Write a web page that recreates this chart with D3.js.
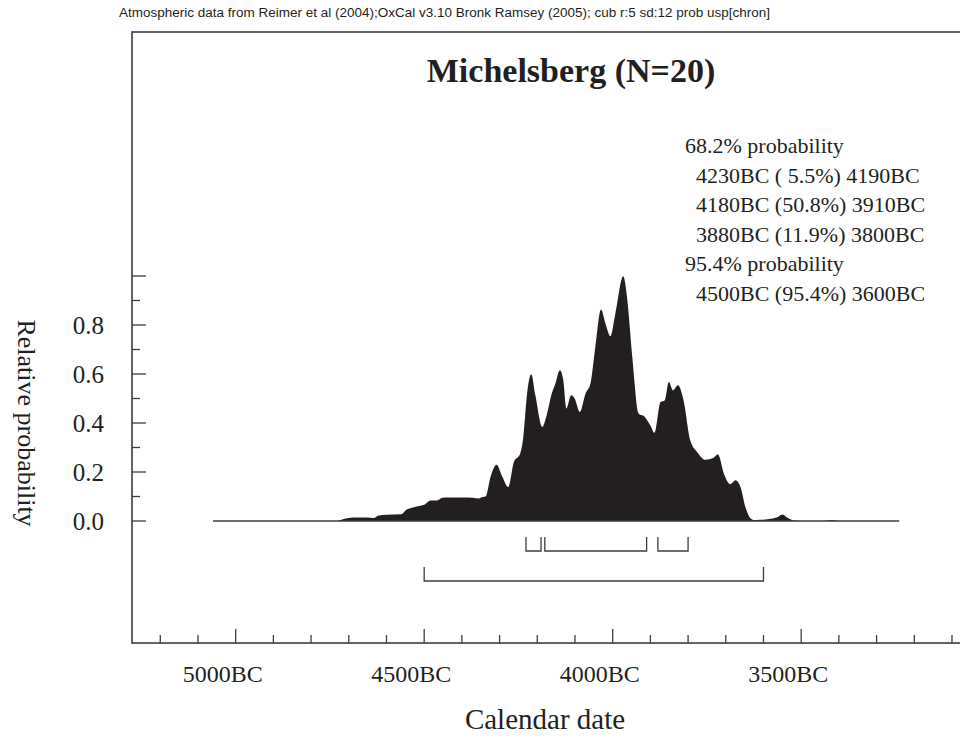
<!DOCTYPE html>
<html>
<head>
    <meta charset="utf-8">
    <style>
        body { margin: 0; background: #fff; }
        svg { display: block; }
        text { fill: #231f20; font-family: 'Liberation Serif', 'Times New Roman', serif; }
        .header { font-family: 'Liberation Sans', Arial, sans-serif; font-size: 12px; }
        .prob { font-size: 22px; white-space: pre; }
    </style>
</head>
<body>
<svg width="960" height="737"></svg>
<script src="https://d3js.org/d3.v7.min.js"></script>
<script>
    // years BC and relative probability
    let years = [5060, 4730, 4722, 4700, 4688, 4650, 4635, 4620, 4600, 4560, 4548, 4530, 4510, 4500,
        4483, 4466, 4452, 4430, 4400, 4370, 4355, 4345, 4337, 4324, 4308, 4293, 4277, 4262, 4246,
        4237, 4227, 4216, 4205, 4187, 4174, 4163, 4152, 4140, 4131, 4123, 4110, 4101, 4087, 4072,
        4059, 4046, 4031, 4019, 4006, 3993, 3972, 3962, 3948, 3931, 3916, 3900, 3889, 3873, 3862,
        3851, 3840, 3827, 3813, 3794, 3776, 3754, 3732, 3721, 3705, 3688, 3674, 3661, 3648, 3634,
        3626, 3610, 3585, 3565, 3550, 3535, 3520, 3500, 3440, 3420, 3400, 3240];
    let probs = [0, 0, 0.004, 0.012, 0.014, 0.014, 0.012, 0.022, 0.026, 0.028, 0.045, 0.055, 0.062, 0.066,
        0.084, 0.084, 0.095, 0.096, 0.096, 0.095, 0.092, 0.098, 0.10, 0.18, 0.23, 0.182, 0.139, 0.241, 0.272,
        0.343, 0.52, 0.599, 0.513, 0.384, 0.438, 0.513, 0.56, 0.615, 0.574, 0.459, 0.513, 0.50, 0.445, 0.52,
        0.56, 0.71, 0.863, 0.805, 0.754, 0.846, 0.999, 0.914, 0.669, 0.438, 0.427, 0.39, 0.36, 0.486, 0.492,
        0.567, 0.533, 0.554, 0.50, 0.329, 0.282, 0.25, 0.258, 0.272, 0.193, 0.15, 0.166, 0.139, 0.057, 0.01,
        0.004, 0.005, 0.008, 0.014, 0.027, 0.012, 0.002, 0, 0, 0.003, 0, 0];

    let range68 = [[4230, 4190], [4180, 3910], [3880, 3800]];
    let range95 = [[4500, 3600]];
    let xTickLabels = [5000, 4500, 4000, 3500];
    let yTickLabels = [0.0, 0.2, 0.4, 0.6, 0.8];
    let probLines = ["68.2% probability", "  4230BC ( 5.5%) 4190BC", "  4180BC (50.8%) 3910BC",
        "  3880BC (11.9%) 3800BC", "95.4% probability", "  4500BC (95.4%) 3600BC"];

    let svg = d3.select("svg");
    let ink = "#231f20";
    let axisInk = "#3c3c3c";

    let x = d3.scaleLinear().domain([5275, 3075]).range([132, 961.4]);
    let y = d3.scaleLinear().domain([0, 1]).range([521, 276]);
    let frameTop = 32, frameBottom = 643, frameLeft = 132;

    let data = years.map((yr, i) => ({ yr: yr, p: probs[i] }));

    svg.append("text").attr("class", "header")
        .attr("x", 119).attr("y", 17)
        .attr("textLength", 651).attr("lengthAdjust", "spacingAndGlyphs")
        .text("Atmospheric data from Reimer et al (2004);OxCal v3.10 Bronk Ramsey (2005); cub r:5 sd:12 prob usp[chron]");

    // frame
    svg.append("rect")
        .attr("x", frameLeft).attr("y", frameTop)
        .attr("width", 900).attr("height", frameBottom - frameTop)
        .attr("fill", "none").attr("stroke", axisInk).attr("stroke-width", 1.6);

    // x ticks every 100 years
    let xt = d3.range(5200, 3050, -100);
    svg.append("g").selectAll("line").data(xt).join("line")
        .attr("x1", d => x(d)).attr("x2", d => x(d))
        .attr("y1", frameBottom)
        .attr("y2", d => frameBottom - (d % 500 == 0 ? 14 : 8))
        .attr("stroke", axisInk).attr("stroke-width", 1.3);
    svg.append("g").selectAll("text").data(xTickLabels).join("text")
        .attr("x", d => x(d) - 13).attr("y", 682)
        .attr("text-anchor", "middle").attr("font-size", 24)
        .text(d => d + "BC");

    // y ticks every 0.1
    let yt = d3.range(0, 11).map(d => d / 10);
    svg.append("g").selectAll("line").data(yt).join("line")
        .attr("x1", frameLeft).attr("x2", (d, i) => frameLeft + (i % 2 == 0 ? 14 : 8))
        .attr("y1", d => y(d)).attr("y2", d => y(d))
        .attr("stroke", axisInk).attr("stroke-width", 1.3);
    svg.append("g").selectAll("text").data(yTickLabels).join("text")
        .attr("x", 104).attr("y", d => y(d) + 8.5)
        .attr("text-anchor", "end").attr("font-size", 25)
        .text(d => d.toFixed(1));

    // distribution
    let area = d3.area()
        .x(d => x(d.yr)).y0(y(0)).y1(d => y(d.p))
        .curve(d3.curveMonotoneX);
    svg.append("path").datum(data)
        .attr("d", area).attr("fill", ink);
    svg.append("line")
        .attr("x1", x(years[0])).attr("x2", x(years[years.length - 1]))
        .attr("y1", y(0)).attr("y2", y(0))
        .attr("stroke", axisInk).attr("stroke-width", 1.6);

    // range brackets
    function brackets(ranges, top, bottom) {
        svg.append("g").selectAll("path").data(ranges).join("path")
            .attr("d", d => `M${x(d[0])},${top}V${bottom}H${x(d[1])}V${top}`)
            .attr("fill", "none").attr("stroke", axisInk).attr("stroke-width", 1.3);
    }
    brackets(range68, 537, 551);
    brackets(range95, 567, 581);

    // titles
    svg.append("text")
        .attr("x", 571).attr("y", 82)
        .attr("text-anchor", "middle").attr("font-size", 34).attr("font-weight", "bold")
        .text("Michelsberg (N=20)");

    svg.append("g").selectAll("text").data(probLines).join("text")
        .attr("class", "prob")
        .attr("x", 685).attr("y", (d, i) => 153 + i * 29.6)
        .text(d => d);

    svg.append("text")
        .attr("x", 545).attr("y", 729)
        .attr("text-anchor", "middle").attr("font-size", 29)
        .text("Calendar date");

    svg.append("text")
        .attr("transform", "translate(18,423) rotate(90)")
        .attr("text-anchor", "middle").attr("font-size", 26)
        .text("Relative probability");
</script>
</body>
</html>
